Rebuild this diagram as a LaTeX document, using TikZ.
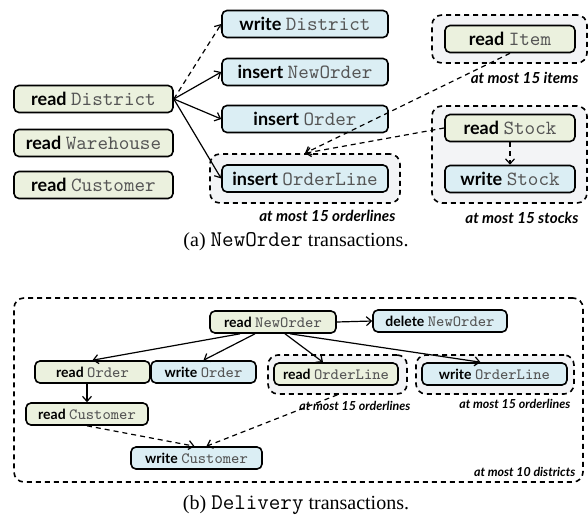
\documentclass[tikz,border=0pt]{standalone}
\usepackage{fontspec}
\setmainfont{Liberation Serif}
\setsansfont{Lato}
\setmonofont{Latin Modern Mono}[Scale=1.12]
\usepackage{tikz}
\usetikzlibrary{calc,arrows.meta}
\definecolor{rdfill}{HTML}{EBF1DE}
\definecolor{wrfill}{HTML}{DBEEF4}
\definecolor{grpfill}{HTML}{F3F4F6}
\definecolor{tblgray}{HTML}{555555}
\newcommand{\op}[2]{{\sffamily\bfseries #1}~{\ttfamily\color{tblgray}#2}}
\tikzset{
  box/.style={draw=black, line width=0.8pt, rounded corners=2.5pt, inner sep=0pt, align=center},
  rd/.style={box, fill=rdfill},
  wr/.style={box, fill=wrfill},
  big/.style={font=\fontsize{9}{10}\selectfont, minimum height=13.5pt},
  small/.style={font=\fontsize{7}{8}\selectfont, minimum height=11pt},
  grp/.style={draw=black, dash pattern=on 2.5pt off 2pt, line width=0.8pt, rounded corners=5pt, fill=grpfill, inner sep=0pt},
  note/.style={font=\sffamily\bfseries\itshape\fontsize{7.6}{8}\selectfont, inner sep=0pt},
  notesm/.style={note, font=\sffamily\bfseries\itshape\fontsize{6.2}{7}\selectfont},
  dep/.style={draw=black, line width=0.6pt, -{Straight Barb[length=2.5pt,width=4.5pt]}},
  weak/.style={dep, dash pattern=on 2.5pt off 2pt},
}

\begin{document}
\begin{tikzpicture}[x=0.5pt,y=-0.5pt]
  \useasboundingbox (0,0) rectangle (588,519);

  % (a) NewOrder
  \node[grp, minimum width=95pt, minimum height=24.5pt] (olgrp) at (305,178.5) {};
  \node[grp, minimum width=77.5pt, minimum height=24pt] (itgrp) at (509.5,39) {};
  \node[grp, minimum width=77.5pt, minimum height=48.5pt] (stgrp) at (509.5,154.5) {};

  \node[rd, big, minimum width=79.5pt] (rdist) at (93.5,99) {\op{read}{District}};
  \node[rd, big, minimum width=79.5pt] (rwh) at (93.5,143) {\op{read}{Warehouse}};
  \node[rd, big, minimum width=79.5pt] (rcu) at (93.5,185) {\op{read}{Customer}};

  \node[wr, big, minimum width=83pt] (wdist) at (305,24) {\op{write}{District}};
  \node[wr, big, minimum width=83pt] (ino) at (305,72) {\op{insert}{NewOrder}};
  \node[wr, big, minimum width=83pt] (iord) at (305,119) {\op{insert}{Order}};
  \node[wr, big, minimum width=83pt] (iol) at (305,178.5) {\op{insert}{OrderLine}};

  \node[rd, big, minimum width=65pt] (ritem) at (510,39) {\op{read}{Item}};
  \node[rd, big, minimum width=65pt] (rstock) at (510,128) {\op{read}{Stock}};
  \node[wr, big, minimum width=65pt] (wstock) at (510,179) {\op{write}{Stock}};

  \node[note, anchor=north east] at ($(olgrp.south east)+(-5,6)$) {at most 15 orderlines};
  \node[note, anchor=north east] at ($(itgrp.south east)+(-9,8)$) {at most 15 items};
  \node[note, anchor=north east] at ($(stgrp.south east)+(-9,8)$) {at most 15 stocks};

  \draw[weak] (rdist.east) -- (wdist.west);
  \draw[dep] (rdist.east) -- (ino.west);
  \draw[dep] (rdist.east) -- (iord.west);
  \draw[dep] (rdist.east) -- (iol.west);
  \draw[weak] (ritem.south) -- (olgrp.north);
  \draw[weak] (rstock.west) -- (olgrp.north);
  \draw[weak] (rstock.south) -- (wstock.north);

  \node at (296,242) {(a) \texttt{NewOrder} transactions.};

  % (b) Delivery
  \node[grp, fill=white, minimum width=284.5pt, minimum height=92pt] (dgrp) at (298.5,390) {};
  \node[grp, minimum width=69.5pt, minimum height=19.5pt] (rolgrp) at (337.5,374.5) {};
  \node[grp, minimum width=79pt, minimum height=19.5pt] (wolgrp) at (495,374.5) {};

  \node[rd, small, minimum width=63pt] (rno) at (273,322) {\op{read}{NewOrder}};
  \node[wr, small, minimum width=67pt] (dno) at (440,321) {\op{delete}{NewOrder}};
  \node[rd, small, minimum width=57.5pt] (rord) at (92.5,372) {\op{read}{Order}};
  \node[wr, small, minimum width=52.5pt] (word) at (203.5,372) {\op{write}{Order}};
  \node[rd, small, minimum width=62pt] (rol) at (336,374) {\op{read}{OrderLine}};
  \node[wr, small, minimum width=72.5pt] (wol) at (494.5,374) {\op{write}{OrderLine}};
  \node[rd, small, minimum width=61pt] (rcust) at (87,414) {\op{read}{Customer}};
  \node[wr, small, minimum width=65.5pt] (wcust) at (196.5,458) {\op{write}{Customer}};

  \node[notesm, anchor=north east] at ($(rolgrp.south east)+(3,6)$) {at most 15 orderlines};
  \node[notesm, anchor=north east] at ($(wolgrp.south east)+(-4,4)$) {at most 15 orderlines};
  \node[notesm, anchor=south east] at ($(dgrp.south east)+(-8,-6)$) {at most 10 districts};

  \draw[dep] (rno.east) -- (dno.west);
  \draw[dep] ([xshift=-16.5pt]rno.south) -- (rord.north);
  \draw[dep] ([xshift=-9pt]rno.south) -- (word.north);
  \draw[dep] ([xshift=6pt]rno.south) -- ([xshift=-6.5pt]rol.north);
  \draw[dep] ([xshift=8.5pt]rno.south) -- ([xshift=-7pt]wol.north);
  \draw[dep] (rcust.north |- rord.south) -- (rcust.north);
  \draw[weak] (rcust.south) -- ([xshift=-1pt]wcust.north);
  \draw[weak] (rolgrp.south) -- ([xshift=5pt]wcust.north);

  \node at (296,505) {(b) \texttt{Delivery} transactions.};
\end{tikzpicture}
\end{document}
